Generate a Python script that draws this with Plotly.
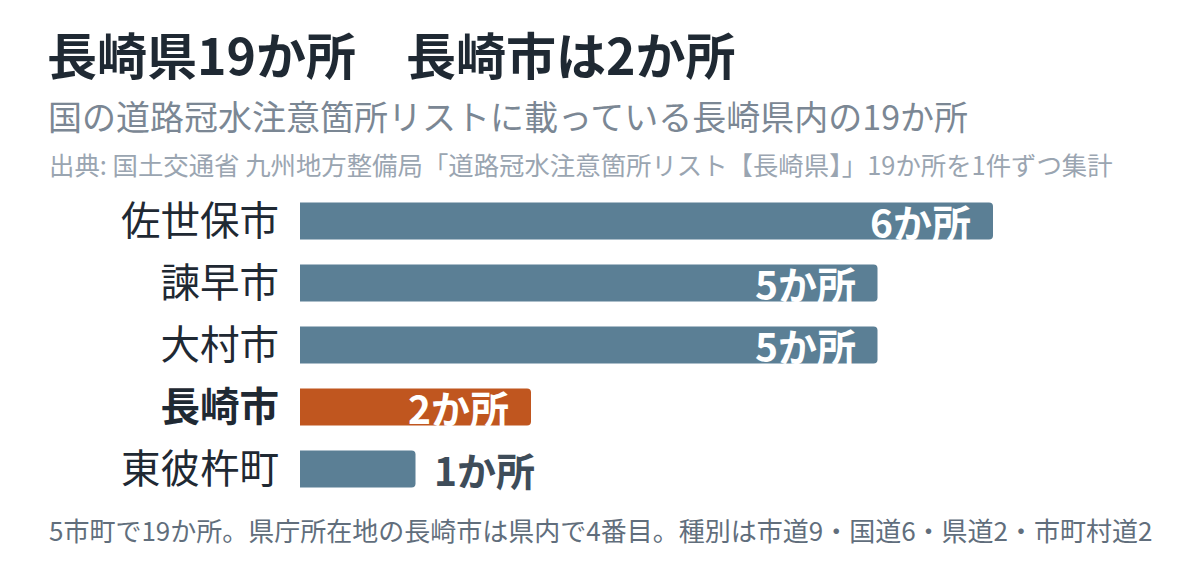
import plotly.graph_objects as go

# data
towns = ['佐世保市', '諫早市', '大村市', '長崎市', '東彼杵町']
counts = [6, 5, 5, 2, 1]
highlight = '長崎市'

title_text = '長崎県19か所　長崎市は2か所'
subtitle_text = '国の道路冠水注意箇所リストに載っている長崎県内の19か所'
source_text = '出典: 国土交通省 九州地方整備局「道路冠水注意箇所リスト【長崎県】」19か所を1件ずつ集計'
footer_text = '5市町で19か所。県庁所在地の長崎市は県内で4番目。種別は市道9・国道6・県道2・市町村道2'

FONT = 'Noto Sans CJK JP'
W, H = 1200, 576
ML, MR, MT, MB = 292, 215, 182, 84

BLUE = '#5b7f95'
ORANGE = '#c0561f'


def px_x(x):
    # figure pixel -> paper x
    return (x - ML) / (W - ML - MR)


def px_y(y):
    # figure pixel -> paper y
    return 1 - (y - MT) / (H - MT - MB)


colors = [ORANGE if t == highlight else BLUE for t in towns]
ticktext = ['<b>%s</b>' % t if t == highlight else t for t in towns]

fig = go.Figure()
fig.add_trace(go.Bar(
    x=counts, y=towns, orientation='h',
    marker=dict(color=colors, line=dict(width=0)),
    hoverinfo='skip',
))

# value labels: inside the bar if it is long enough, otherwise just after it
for t, c in zip(towns, counts):
    inside = c >= 2
    fig.add_annotation(
        x=c, y=t, xref='x', yref='y',
        text='<b>%dか所</b>' % c,
        showarrow=False,
        xanchor='right' if inside else 'left',
        xshift=-20 if inside else 16,
        font=dict(family=FONT, size=39, color='white' if inside else '#3e4c59'),
    )

fig.add_annotation(x=px_x(37), y=px_y(45), xref='paper', yref='paper', text='<b>' + title_text + '</b>',
                   showarrow=False, xanchor='left', yanchor='middle',
                   font=dict(family=FONT, size=50, color='#1f2933'))
fig.add_annotation(x=px_x(38), y=px_y(108), xref='paper', yref='paper', text=subtitle_text,
                   showarrow=False, xanchor='left', yanchor='middle',
                   font=dict(family=FONT, size=34, color='#7b8794'))
fig.add_annotation(x=px_x(39), y=px_y(156), xref='paper', yref='paper', text=source_text,
                   showarrow=False, xanchor='left', yanchor='middle',
                   font=dict(family=FONT, size=25.4, color='#9aa5b1'))
fig.add_annotation(x=px_x(39), y=px_y(521), xref='paper', yref='paper', text=footer_text,
                   showarrow=False, xanchor='left', yanchor='middle',
                   font=dict(family=FONT, size=26, color='#616e7c'))

fig.update_layout(
    width=W, height=H,
    margin=dict(l=ML, r=MR, t=MT, b=MB),
    paper_bgcolor='white', plot_bgcolor='white',
    showlegend=False,
    bargap=0.4,
    barcornerradius=4,
    font=dict(family=FONT),
)
fig.update_xaxes(range=[0, 6], visible=False, fixedrange=True)
fig.update_yaxes(
    categoryorder='array', categoryarray=towns, autorange='reversed',
    tickvals=towns, ticktext=ticktext,
    tickfont=dict(family=FONT, size=39.5, color='#1f2933'),
    ticks='', showgrid=False, showline=False, zeroline=False,
    ticklabelstandoff=20, fixedrange=True,
)

fig.write_html('out.html')
